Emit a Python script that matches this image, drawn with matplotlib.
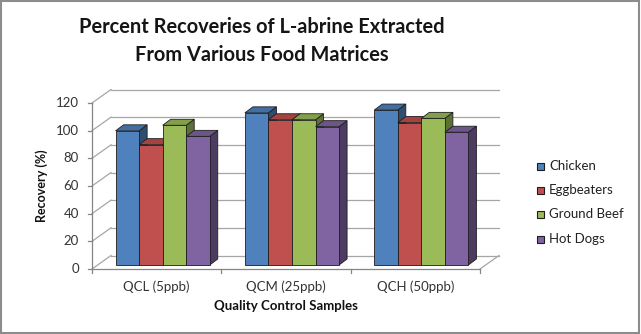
import numpy as np
import matplotlib
matplotlib.use("Agg")
import matplotlib.pyplot as plt
from matplotlib.patches import Polygon, Rectangle
from matplotlib.colors import to_rgb

categories = ["QCL (5ppb)", "QCM (25ppb)", "QCH (50ppb)"]
series = ["Chicken", "Eggbeaters", "Ground Beef", "Hot Dogs"]
chicken = [97, 110, 112]
eggbeaters = [87, 105, 103]
ground_beef = [101, 105, 106]
hot_dogs = [93, 100, 96]
yticks = [0, 20, 40, 60, 80, 100, 120]

values = [chicken, eggbeaters, ground_beef, hot_dogs]
colors = ["#4F81BD", "#C0504D", "#9BBB59", "#8064A2"]

plt.rcParams['font.family'] = ['Lato', 'DejaVu Sans']


def shade(c, f):
    r, g, b = to_rgb(c)
    return (r * f, g * f, b * f)


fig = plt.figure(figsize=(6.41, 3.34), dpi=100)
ax = fig.add_axes([92 / 641, 65 / 334, 388 / 641, 166 / 334])
ax.set_xlim(0, 3)
ax.set_ylim(0, 120)
ax.axis('off')

# data units per pixel
sx = 3 / 388.0
sy = 120 / 166.0
wall_dx, wall_dy = 19 * sx, 13.5 * sy
bar_fx, bar_fy = 6 * sx, 4 * sy
bar_dx, bar_dy = 8 * sx, 6 * sy

grid_c = '#A6A6A6'
# walls / grid
for v in yticks:
    ax.plot([0, wall_dx], [v, v + wall_dy], color=grid_c, lw=0.9, clip_on=False, zorder=1)
    ax.plot([wall_dx, 3 + wall_dx], [v + wall_dy] * 2, color=grid_c, lw=0.9, clip_on=False, zorder=1)
    ax.plot([-4 * sx, 0], [v, v], color='#868686', lw=0.9, clip_on=False, zorder=1)
    ax.text(-13 * sx, v, str(v), ha='right', va='center', fontsize=9.5, color='#333333')
ax.plot([3, 3 + wall_dx], [0, wall_dy], color=grid_c, lw=0.9, clip_on=False, zorder=1)
ax.plot([0, 3], [0, 0], color='#868686', lw=0.9, clip_on=False, zorder=1)
ax.plot([0, 0], [0, 120], color='#868686', lw=0.9, clip_on=False, zorder=1)
for i in range(4):
    ax.plot([i, i], [0, -4 * sy], color='#868686', lw=0.9, clip_on=False, zorder=1)

# bars
n = len(series)
bw = 0.182
z = 2
for ci in range(len(categories)):
    x0 = ci + 0.5 - n * bw / 2 + bar_fx
    for si in range(n):
        v = values[si][ci]
        c = colors[si]
        x = x0 + si * bw
        y = bar_fy
        side = Polygon([(x + bw, y), (x + bw + bar_dx, y + bar_dy),
                        (x + bw + bar_dx, y + v + bar_dy), (x + bw, y + v)],
                       closed=True, fc=shade(c, 0.6), ec='#1E1E1E', lw=0.6, zorder=z)
        top = Polygon([(x, y + v), (x + bw, y + v), (x + bw + bar_dx, y + v + bar_dy),
                       (x + bar_dx, y + v + bar_dy)],
                      closed=True, fc=shade(c, 0.85), ec='#1E1E1E', lw=0.6, zorder=z)
        front = Rectangle((x, y), bw, v, fc=c, ec='#1E1E1E', lw=0.6, zorder=z + 1)
        ax.add_patch(side)
        ax.add_patch(top)
        ax.add_patch(front)
        z += 2
    ax.text(ci + 0.5, -18 * sy, categories[ci], ha='center', va='center',
            fontsize=9.5, color='#333333')

ax.text(1.5, -37 * sy, "Quality Control Samples", ha='center', va='center',
        fontsize=9.5, fontweight='bold', color='#111111')
ax.text(-50 * sx, 60, "Recovery (%)", ha='center', va='center', rotation=90,
        fontsize=9, fontweight='bold', color='#111111')

# title
fig.text(262 / 641, 1 - 27 / 334, "Percent Recoveries of L-abrine Extracted",
         ha='center', va='center', fontsize=14.4, fontweight='bold', color='#151515')
fig.text(262 / 641, 1 - 55 / 334, "From Various Food Matrices",
         ha='center', va='center', fontsize=14.4, fontweight='bold', color='#151515')

# legend
leg_y = [166, 190, 214, 239]
for si in range(n):
    fig.add_artist(Rectangle((537 / 641, 1 - (leg_y[si] + 3.5) / 334), 7 / 641, 7 / 334,
                             transform=fig.transFigure, fc=colors[si], ec='#1E1E1E', lw=0.8))
    fig.text(549 / 641, 1 - leg_y[si] / 334, series[si], ha='left', va='center',
             fontsize=9.5, color='#222222')

fig.add_artist(Rectangle((0.002, 0.003), 0.995, 0.993, transform=fig.transFigure,
                         fill=False, ec='#8C8C8C', lw=1.5))

fig.savefig("out.png", dpi=100)
